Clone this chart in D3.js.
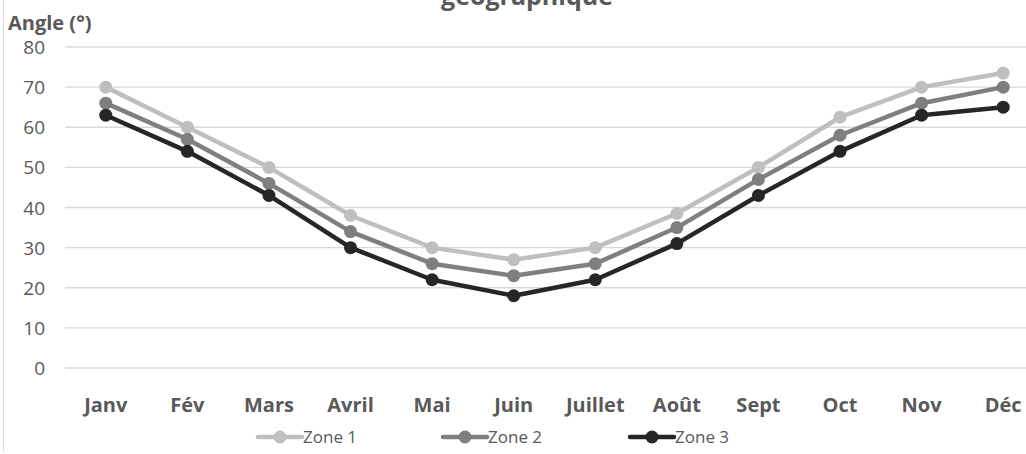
<!DOCTYPE html>
<html>
<head>
<meta charset="utf-8">
<script src="https://cdn.jsdelivr.net/npm/d3@7"></script>
<style>
  html, body { margin: 0; padding: 0; background: #fff; overflow: hidden; }
  svg { display: block; font-family: "Open Sans", "Noto Sans", sans-serif; }
</style>
</head>
<body>
<svg width="1026" height="454"></svg>
<script>
// data
const months = ["Janv", "Fév", "Mars", "Avril", "Mai", "Juin", "Juillet", "Août", "Sept", "Oct", "Nov", "Déc"];
const zone1 = [70, 60, 50, 38, 30, 27, 30, 38.5, 50, 62.5, 70, 73.5];
const zone2 = [66, 57, 46, 34, 26, 23, 26, 35, 47, 58, 66, 70];
const zone3 = [63, 54, 43, 30, 22, 18, 22, 31, 43, 54, 63, 65];
const zoneNames = ["Zone 1", "Zone 2", "Zone 3"];
const yTicks = [0, 10, 20, 30, 40, 50, 60, 70, 80];

const svg = d3.select("svg");
const txt = "#595959";

// frame of the chart area (only its left side shows)
svg.append("line")
  .attr("x1", 3.5).attr("x2", 3.5)
  .attr("y1", 0).attr("y2", 451)
  .attr("stroke", "#d9d9d9").attr("stroke-width", 1);

const x = d3.scaleBand().domain(months).range([65, 1044]);
const y = d3.scaleLinear().domain([0, 80]).range([368, 47]);

// gridlines
svg.append("g").selectAll("line")
  .data(yTicks)
  .enter().append("line")
  .attr("x1", 65).attr("x2", 1044)
  .attr("y1", d => y(d)).attr("y2", d => y(d))
  .attr("stroke", "#d9d9d9").attr("stroke-width", 1.3);

// y labels
svg.append("g").selectAll("text")
  .data(yTicks)
  .enter().append("text")
  .attr("x", 45)
  .attr("y", d => y(d) + 7)
  .attr("text-anchor", "end")
  .attr("font-size", 19)
  .attr("fill", txt)
  .text(d => d);

// x labels
svg.append("g").selectAll("text")
  .data(months)
  .enter().append("text")
  .attr("x", d => x(d) + x.bandwidth() / 2)
  .attr("y", 412)
  .attr("text-anchor", "middle")
  .attr("font-size", 20)
  .attr("font-weight", "bold")
  .attr("fill", txt)
  .text(d => d);

// titles
svg.append("text")
  .attr("x", 8).attr("y", 30)
  .attr("font-size", 20)
  .attr("font-weight", "bold")
  .attr("fill", txt)
  .text("Angle (°)");

svg.append("text")
  .attr("x", 527).attr("y", 5)
  .attr("text-anchor", "middle")
  .attr("font-size", 25)
  .attr("font-weight", "bold")
  .attr("fill", txt)
  .text("géographique");

// series
const series = [
  { name: zoneNames[0], values: zone1, color: "#bfbfbf" },
  { name: zoneNames[1], values: zone2, color: "#7f7f7f" },
  { name: zoneNames[2], values: zone3, color: "#262626" }
];

const line = d3.line()
  .x((d, i) => x(months[i]) + x.bandwidth() / 2)
  .y(d => y(d));

series.forEach(s => {
  const g = svg.append("g");
  g.append("path")
    .attr("d", line(s.values))
    .attr("fill", "none")
    .attr("stroke", s.color)
    .attr("stroke-width", 4.5)
    .attr("stroke-linejoin", "round");
  g.selectAll("circle")
    .data(s.values)
    .enter().append("circle")
    .attr("cx", (d, i) => x(months[i]) + x.bandwidth() / 2)
    .attr("cy", d => y(d))
    .attr("r", 6.5)
    .attr("fill", s.color);
});

// legend
const legX = [258, 443, 630];
const leg = svg.append("g");
series.forEach((s, i) => {
  const lx = legX[i];
  leg.append("line")
    .attr("x1", lx).attr("x2", lx + 44)
    .attr("y1", 437).attr("y2", 437)
    .attr("stroke", s.color).attr("stroke-width", 4.5)
    .attr("stroke-linecap", "round");
  leg.append("circle")
    .attr("cx", lx + 22).attr("cy", 437).attr("r", 6.5)
    .attr("fill", s.color);
  leg.append("text")
    .attr("x", lx + 45).attr("y", 443)
    .attr("font-size", 17)
    .attr("fill", txt)
    .text(s.name);
});
</script>
</body>
</html>
